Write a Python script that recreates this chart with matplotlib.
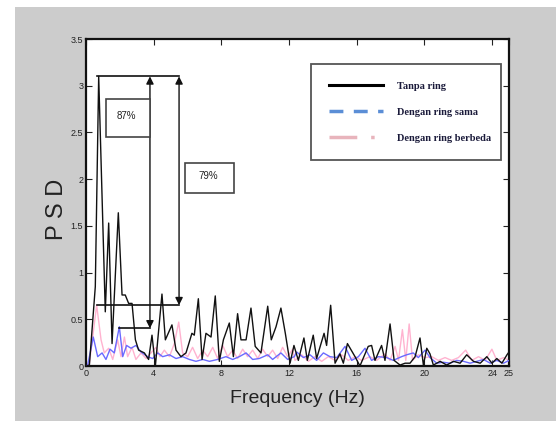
import numpy as np
import matplotlib
matplotlib.use("Agg")
import matplotlib.pyplot as plt
from matplotlib.lines import Line2D
from matplotlib.patches import Rectangle

# black: tanpa ring
freq_a = [0.0, 0.2, 0.55, 0.75, 1.14, 1.34, 1.54, 1.91, 2.13, 2.32, 2.52, 2.72, 2.92, 3.11,
          3.45, 3.7, 3.9, 4.1, 4.49, 4.69, 5.08, 5.32, 5.61, 5.91, 6.26, 6.4, 6.64, 6.86,
          7.09, 7.39, 7.64, 7.88, 8.12, 8.47, 8.71, 8.96, 9.16, 9.46, 9.75, 10.0, 10.34,
          10.74, 10.95, 11.23, 11.52, 11.78, 12.06, 12.29, 12.55, 12.88, 13.08, 13.43,
          13.63, 14.07, 14.22, 14.46, 14.72, 15.01, 15.21, 15.45, 15.9, 16.19, 16.68,
          16.88, 17.08, 17.47, 17.67, 17.97, 18.21, 18.56, 18.86, 19.15, 19.45, 19.74,
          19.94, 20.14, 20.33, 20.53, 20.93, 21.32, 21.72, 22.11, 22.5, 22.9, 23.3,
          23.69, 23.99, 24.28, 24.58, 24.88, 25.0]
psd_a = [0.0, 0.01, 0.85, 3.1, 0.58, 1.53, 0.24, 1.64, 0.76, 0.76, 0.67, 0.67, 0.28, 0.17,
         0.14, 0.07, 0.33, 0.0, 0.77, 0.28, 0.44, 0.17, 0.10, 0.14, 0.35, 0.33, 0.72, 0.07,
         0.35, 0.31, 0.75, 0.05, 0.28, 0.46, 0.10, 0.56, 0.28, 0.28, 0.62, 0.21, 0.14,
         0.64, 0.28, 0.42, 0.62, 0.35, 0.03, 0.22, 0.06, 0.30, 0.06, 0.33, 0.08, 0.35,
         0.22, 0.65, 0.03, 0.13, 0.03, 0.24, 0.10, 0.0, 0.21, 0.22, 0.06, 0.22, 0.06,
         0.45, 0.06, 0.01, 0.03, 0.03, 0.10, 0.30, 0.01, 0.19, 0.13, 0.01, 0.05, 0.01,
         0.05, 0.03, 0.12, 0.05, 0.03, 0.10, 0.03, 0.08, 0.03, 0.12, 0.15]

# blue: dengan ring sama
freq_b = [0.0, 0.1, 0.43, 0.69, 0.95, 1.18, 1.42, 1.67, 1.97, 2.17, 2.4, 2.66, 2.95, 3.25,
          3.64, 3.94, 4.24, 4.53, 4.93, 5.32, 5.71, 6.11, 6.5, 6.9, 7.29, 7.78, 8.27, 8.67,
          9.06, 9.46, 9.85, 10.24, 10.74, 11.03, 11.52, 11.92, 12.31, 12.45, 12.85, 13.24,
          13.63, 14.03, 14.42, 14.82, 15.31, 15.7, 16.1, 16.49, 16.88, 17.28, 17.77,
          18.16, 18.65, 18.95, 19.34, 19.64, 20.04, 20.33, 20.73, 21.12, 21.52, 21.91,
          22.31, 22.7, 23.1, 23.49, 23.89, 24.28, 24.68, 25.0]
psd_b = [0.0, 0.01, 0.31, 0.10, 0.14, 0.07, 0.18, 0.14, 0.42, 0.10, 0.22, 0.19, 0.22, 0.15,
         0.10, 0.08, 0.14, 0.10, 0.12, 0.08, 0.10, 0.07, 0.05, 0.07, 0.05, 0.07, 0.10, 0.07,
         0.10, 0.14, 0.07, 0.08, 0.12, 0.07, 0.14, 0.07, 0.10, 0.15, 0.09, 0.12, 0.06,
         0.14, 0.10, 0.09, 0.21, 0.06, 0.10, 0.19, 0.06, 0.10, 0.09, 0.06, 0.10, 0.12,
         0.14, 0.09, 0.17, 0.09, 0.03, 0.04, 0.03, 0.06, 0.05, 0.03, 0.05, 0.07, 0.03,
         0.06, 0.03, 0.06]

# pink: dengan ring berbeda
freq_c = [0.0, 0.2, 0.63, 0.89, 1.08, 1.34, 1.58, 1.87, 2.07, 2.27, 2.46, 2.72, 2.95, 3.25,
          3.55, 3.84, 4.14, 4.37, 4.63, 4.93, 5.22, 5.48, 5.71, 6.01, 6.3, 6.6, 6.9, 7.19,
          7.49, 7.78, 8.08, 8.37, 8.67, 8.96, 9.26, 9.55, 9.85, 10.15, 10.44, 10.74, 11.03,
          11.33, 11.62, 11.92, 12.21, 12.35, 12.75, 13.14, 13.53, 13.93, 14.32, 14.72,
          15.11, 15.5, 15.9, 16.29, 16.78, 17.18, 17.67, 17.97, 18.27, 18.47, 18.7, 18.9,
          19.1, 19.3, 19.64, 20.04, 20.43, 20.83, 21.22, 21.61, 22.01, 22.44, 22.8, 23.2,
          23.59, 23.99, 24.28, 24.68, 25.0]
psd_c = [0.0, 0.03, 0.65, 0.28, 0.14, 0.19, 0.07, 0.28, 0.10, 0.31, 0.10, 0.20, 0.07, 0.14,
         0.08, 0.14, 0.20, 0.10, 0.17, 0.10, 0.24, 0.47, 0.14, 0.10, 0.20, 0.08, 0.17, 0.10,
         0.20, 0.08, 0.22, 0.10, 0.17, 0.08, 0.18, 0.10, 0.17, 0.08, 0.18, 0.10, 0.17,
         0.08, 0.20, 0.10, 0.18, 0.06, 0.12, 0.05, 0.10, 0.05, 0.10, 0.06, 0.12, 0.06,
         0.10, 0.06, 0.10, 0.06, 0.13, 0.06, 0.21, 0.06, 0.39, 0.06, 0.45, 0.06, 0.12,
         0.09, 0.10, 0.06, 0.09, 0.06, 0.09, 0.17, 0.06, 0.10, 0.06, 0.18, 0.06, 0.09, 0.06]

labels = ["Tanpa ring", "Dengan ring sama", "Dengan ring berbeda"]
x_ticks = [0, 4, 8, 12, 16, 20, 24, 25]
y_ticks = [0, 0.5, 1, 1.5, 2, 2.5, 3, 3.5]
y_ticklabels = ["0", "0.5", "1", "1.5", "2", "2.5", "3", "3.5"]

# reduction annotations: peak level and the two reduced levels
peak_level = 3.1
reductions = [87, 79]
arrow_x = [3.78, 5.5]
line_start = [1.95, 0.63]
box_x = [(1.18, 3.78), (5.85, 8.76)]
box_y = [(2.455, 2.86), (1.85, 2.17)]

sans = ["Liberation Sans", "DejaVu Sans"]

fig = plt.figure(figsize=(5.56, 4.21), dpi=100)
fig.patch.set_facecolor("white")
fig.add_artist(Rectangle((15 / 556, 0), 1, 1 - 7 / 421, transform=fig.transFigure,
                         facecolor="#cccccc", edgecolor="none", zorder=-10))

ax = fig.add_axes([86 / 556, 55 / 421, 423 / 556, 327 / 421])

ax.plot(freq_c, psd_c, color="#ffb3d0", lw=1.0, zorder=2)
ax.plot(freq_b, psd_b, color="#6a6aff", lw=1.0, zorder=3)
ax.plot(freq_a, psd_a, color="#111111", lw=1.0, zorder=4)

# arrows and level lines
for pct, ax_x, x0, bx, by in zip(reductions, arrow_x, line_start, box_x, box_y):
    level = peak_level * (1 - pct / 100)
    ax.plot([x0, ax_x], [level, level], color="#111111", lw=1.2, zorder=5)
    ax.annotate("", xy=(ax_x, level), xytext=(ax_x, peak_level),
                arrowprops=dict(arrowstyle="<|-|>", mutation_scale=11, color="#111111",
                                lw=1.0, shrinkA=0, shrinkB=0), zorder=5)
    ax.add_patch(Rectangle((bx[0], by[0]), bx[1] - bx[0], by[1] - by[0],
                           facecolor="white", edgecolor="#444444", lw=1.2, zorder=5))
    ax.text((bx[0] + bx[1]) / 2 - 0.1, (by[0] + by[1]) / 2 + 0.02, f"{pct}%",
            ha="center", va="center", fontsize=7, family=sans, color="#222222", zorder=6)
ax.plot([0.65, max(arrow_x)], [peak_level, peak_level], color="#111111", lw=1.2, zorder=5)

ax.set_xlim(0, 25)
ax.set_ylim(0, 3.5)
ax.set_xticks(x_ticks)
ax.set_yticks(y_ticks)
ax.set_yticklabels(y_ticklabels)
ax.tick_params(direction="in", length=4, width=0.8, top=True, right=True,
               labelsize=6.5, colors="#222222", pad=2)
for lab in ax.get_xticklabels() + ax.get_yticklabels():
    lab.set_family(sans)
for sp in ax.spines.values():
    sp.set_linewidth(1.6)
    sp.set_color("#111111")

ax.set_ylabel("P S D", fontsize=17, family=sans, color="#222222")
ax.yaxis.set_label_coords(-0.042, 0.48)
ax.set_xlabel("Frequency (Hz)", fontsize=14, family=sans, color="#222222")
ax.xaxis.set_label_coords(0.5, -0.072)

handles = [
    Line2D([], [], color="black", lw=2.2),
    Line2D([], [], color="#5b8ed6", lw=2.5, dashes=(4, 3)),
    Line2D([], [], color="#e8b4bc", lw=2.5, dashes=(8, 4, 1, 4)),
]
leg = ax.legend(handles, labels, loc="upper left",
                bbox_to_anchor=(0.532, 0.621, 0.449, 0.303), mode="expand",
                borderaxespad=0,
                prop=dict(family="Liberation Serif", size=7.5, weight="bold"),
                handlelength=5.2, handletextpad=1.4, labelspacing=1.6,
                borderpad=1.7, fancybox=False, framealpha=1)
leg.get_frame().set_edgecolor("#555555")
leg.get_frame().set_linewidth(1.3)
for t in leg.get_texts():
    t.set_color("#1a1a3a")

fig.savefig("out.png", dpi=100)
